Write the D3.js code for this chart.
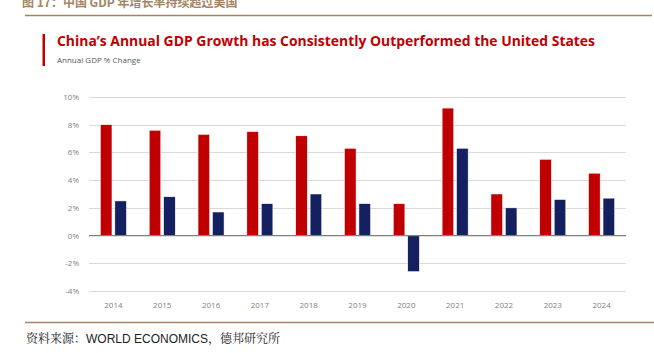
<!DOCTYPE html>
<html>
<head>
<meta charset="utf-8">
<script src="https://cdn.jsdelivr.net/npm/d3@7"></script>
<style>
  body { margin: 0; background: #fff; }
  svg { display: block; }
</style>
</head>
<body>
<div id="chart"></div>
<script>
const years = ["2014", "2015", "2016", "2017", "2018", "2019", "2020", "2021", "2022", "2023", "2024"];
const chinaGrowth = [8.0, 7.6, 7.3, 7.5, 7.2, 6.3, 2.3, 9.2, 3.0, 5.5, 4.5];
const usGrowth = [2.5, 2.8, 1.7, 2.3, 3.0, 2.3, -2.6, 6.3, 2.0, 2.6, 2.7];
const yTicks = [-4, -2, 0, 2, 4, 6, 8, 10];
const series = ["China", "US"];
const seriesColors = ["#c00000", "#142060"];

const W = 654, H = 353;
const margin = { top: 97, right: 28, bottom: 62, left: 89 },
  width = W - margin.left - margin.right,
  height = H - margin.top - margin.bottom;

const root = d3.select("#chart").append("svg")
  .attr("width", W)
  .attr("height", H);

// report header / footer
root.append("text")
  .attr("x", 22)
  .attr("y", 7)
  .style("font-family", "'Noto Sans CJK SC', sans-serif")
  .style("font-size", "12px")
  .style("font-weight", "700")
  .style("fill", "#a48462")
  .text("图 17：中国 GDP 年增长率持续超过美国");

root.append("line")
  .attr("x1", 25).attr("x2", 652)
  .attr("y1", 15.5).attr("y2", 15.5)
  .style("stroke", "#a48462")
  .style("stroke-width", 1.5);

root.append("line")
  .attr("x1", 25).attr("x2", 654)
  .attr("y1", 322.5).attr("y2", 322.5)
  .style("stroke", "#a48462")
  .style("stroke-width", 1.5);

const src = root.append("text")
  .attr("x", 26)
  .attr("y", 343)
  .style("font-size", "12px")
  .style("fill", "#222");
src.append("tspan").style("font-family", "'Noto Serif CJK SC', 'Noto Sans CJK SC', serif").text("资料来源：");
src.append("tspan").style("font-family", "'Liberation Sans', Arial, sans-serif").text("WORLD ECONOMICS");
src.append("tspan").style("font-family", "'Noto Serif CJK SC', 'Noto Sans CJK SC', serif").text("，德邦研究所");

// chart title block
root.append("rect")
  .attr("x", 42.5).attr("y", 34)
  .attr("width", 2.5).attr("height", 32)
  .style("fill", "#c00000");

root.append("text")
  .attr("x", 57)
  .attr("y", 46)
  .attr("textLength", 538)
  .attr("lengthAdjust", "spacingAndGlyphs")
  .style("font-family", "'Open Sans', sans-serif")
  .style("font-size", "14.5px")
  .style("font-weight", "700")
  .style("fill", "#c00000")
  .text("China’s Annual GDP Growth has Consistently Outperformed the United States");

root.append("text")
  .attr("x", 57)
  .attr("y", 63)
  .style("font-family", "'Open Sans', sans-serif")
  .style("font-size", "8px")
  .style("fill", "#595959")
  .text("Annual GDP % Change");

const svg = root.append("g")
  .attr("transform", `translate(${margin.left},${margin.top})`);

const x = d3.scaleBand()
  .domain(years)
  .range([0, width]);

const x1 = d3.scaleBand()
  .domain(series)
  .range([x.bandwidth() / 2 - 13, x.bandwidth() / 2 + 13])
  .paddingInner(0.2);

const y = d3.scaleLinear()
  .domain([-4, 10])
  .range([height, 0]);

// gridlines
svg.selectAll("line.grid")
  .data(yTicks.filter(d => d !== 0))
  .join("line")
  .attr("class", "grid")
  .attr("x1", 0).attr("x2", width)
  .attr("y1", d => Math.round(y(d)) + 0.5)
  .attr("y2", d => Math.round(y(d)) + 0.5)
  .style("stroke", "#d9d9d9")
  .style("stroke-width", 1);

// y axis labels
const yAxis = svg.append("g")
  .attr("transform", "translate(-7,0)")
  .call(d3.axisLeft(y).tickValues(yTicks).tickFormat(d => d + "%").tickSize(0));
yAxis.select(".domain").remove();
yAxis.selectAll("text")
  .style("font-family", "'Open Sans', sans-serif")
  .style("font-size", "8px")
  .style("fill", "#7f7f7f");

const rows = years.map((yr, i) => ({ year: yr, values: [chinaGrowth[i], usGrowth[i]] }));

const groups = svg.selectAll("g.year")
  .data(rows)
  .join("g")
  .attr("class", "year")
  .attr("transform", d => `translate(${x(d.year)},0)`);

groups.selectAll("rect")
  .data(d => d.values.map((v, j) => ({ key: series[j], value: v, color: seriesColors[j] })))
  .join("rect")
  .attr("x", d => x1(d.key))
  .attr("width", x1.bandwidth())
  .attr("y", d => y(Math.max(0, d.value)))
  .attr("height", d => Math.abs(y(d.value) - y(0)))
  .style("fill", d => d.color)
  .style("stroke", "#fff")
  .style("stroke-width", 0.5);

// zero line
svg.append("line")
  .attr("x1", 0).attr("x2", width)
  .attr("y1", y(0)).attr("y2", y(0))
  .style("stroke", "#7f7f7f")
  .style("stroke-width", 1.2);

// x axis labels
const xAxis = svg.append("g")
  .attr("transform", `translate(0,${height + 8})`)
  .call(d3.axisBottom(x).tickSize(0));
xAxis.select(".domain").remove();
xAxis.selectAll("text")
  .style("font-family", "'Open Sans', sans-serif")
  .style("font-size", "8px")
  .style("fill", "#7f7f7f");
</script>
</body>
</html>
